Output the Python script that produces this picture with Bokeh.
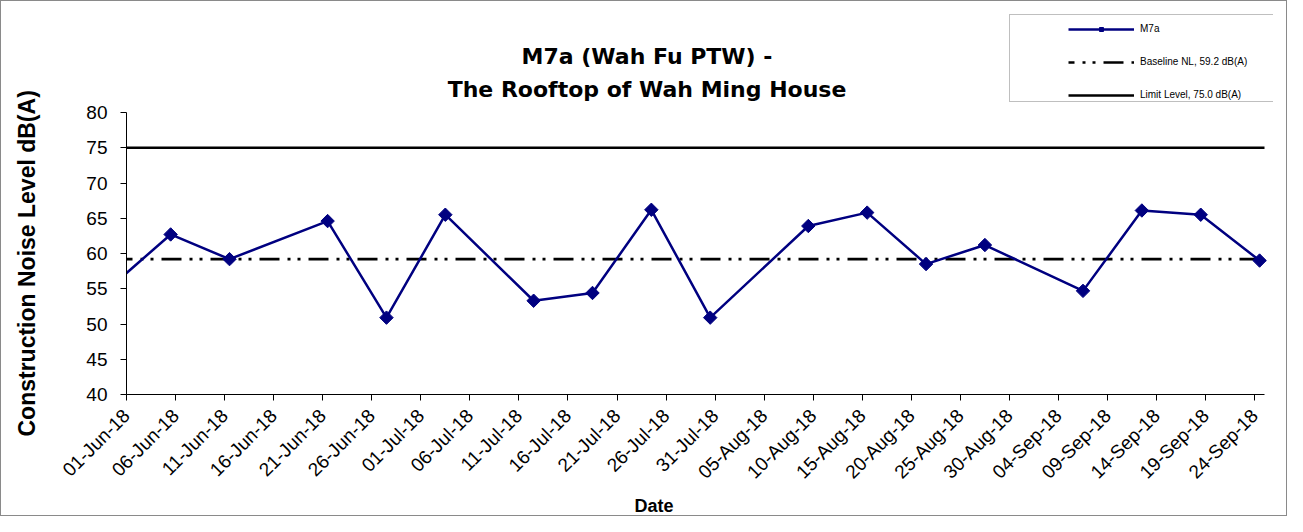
import math
import pandas as pd
from bokeh.plotting import figure
from bokeh.models import (Range1d, FixedTicker, DatetimeTickFormatter, Legend,
                          LegendItem, Title, Label, ColumnDataSource)
from bokeh.embed import file_html
from bokeh.resources import INLINE

# ---------------- data ----------------
title_line1 = "M7a (Wah Fu PTW) -"
title_line2 = "The Rooftop of Wah Ming House"
series_name = "M7a"
baseline_label = "Baseline NL, 59.2 dB(A)"
limit_label = "Limit Level, 75.0 dB(A)"
y_label = "Construction Noise Level dB(A)"
x_label = "Date"

dates = ["2018-05-30", "2018-06-05", "2018-06-11", "2018-06-21", "2018-06-27",
         "2018-07-03", "2018-07-12", "2018-07-18", "2018-07-24", "2018-07-30",
         "2018-08-09", "2018-08-15", "2018-08-21", "2018-08-27", "2018-09-06",
         "2018-09-12", "2018-09-18", "2018-09-24"]
noise = [55.4, 62.7, 59.2, 64.6, 50.9,
         65.5, 53.3, 54.4, 66.2, 50.9,
         63.9, 65.8, 58.5, 61.2, 54.7,
         66.1, 65.5, 59.0]

baseline_level = 59.2
limit_level = 75.0

x_start = "2018-06-01"
x_end = "2018-09-25"
tick_first = "2018-06-01"
tick_last = "2018-09-24"
tick_step = "5D"
y_ticks = [40, 45, 50, 55, 60, 65, 70, 75, 80]

# ---------------- layout constants (pixels) ----------------
FONT = "Liberation Sans"
NAVY = "#000080"
W, H = 1287, 516
AX_LEFT = 125.5          # x of the y axis line
AX_RIGHT = 1263.0        # x where the date axis ends
AX_TOP = 111.0           # y of value 80
AX_BOTTOM = 393.0        # y of value 40
FRAME_TOP = 10           # frame extends above the axis to host title and legend
FRAME_RIGHT = 1272       # frame extends a bit to the right so end markers are not cut

x0 = pd.Timestamp(x_start)
x1 = pd.Timestamp(x_end)
y0, y1 = y_ticks[0], y_ticks[-1]
px_per_ms = (AX_RIGHT - AX_LEFT) / ((x1 - x0).value / 1e6)
px_per_unit = (AX_BOTTOM - AX_TOP) / (y1 - y0)
x_range_end = x1 + pd.Timedelta(milliseconds=(FRAME_RIGHT - AX_RIGHT) / px_per_ms)
y_range_end = y1 + (AX_TOP - FRAME_TOP) / px_per_unit

p = figure(width=W, height=H, x_axis_type="datetime",
           x_range=Range1d(x0, x_range_end), y_range=Range1d(y0, y_range_end),
           output_backend="svg", toolbar_location=None, title_location=None,
           min_border_left=int(AX_LEFT), min_border_right=W - FRAME_RIGHT,
           min_border_top=FRAME_TOP, min_border_bottom=H - int(AX_BOTTOM))
p.outline_line_color = None
p.xgrid.visible = False
p.ygrid.visible = False
p.background_fill_color = "white"
p.border_fill_color = "white"
p.styles = {"border": "1px solid #8a8a8a"}

# series
xs = pd.to_datetime(dates) + pd.Timedelta(hours=12)
src = ColumnDataSource(dict(x=xs, y=noise))

ref_x = [x0, x1]
r_lim = p.line(x=ref_x, y=[limit_level, limit_level], line_color="black", line_width=2.6)
r_base = p.line(x=ref_x, y=[baseline_level, baseline_level], line_color="black",
                line_width=2.6, line_dash="20 8 3 7 3 8", line_dash_offset=14)
r_line = p.line("x", "y", source=src, line_color=NAVY, line_width=2.5)
r_pts = p.scatter("x", "y", source=src, marker="square", angle=math.pi / 4, size=9.5,
                  fill_color=NAVY, line_color=NAVY)
r_dummy = p.line(x=[], y=[], line_alpha=0)

# axes
ticks = [t.value / 1e6 for t in pd.date_range(tick_first, tick_last, freq=tick_step)]
p.xaxis.ticker = FixedTicker(ticks=ticks)
fmt = "%d-%b-%y"
fkw = dict(milliseconds=fmt, seconds=fmt, minsec=fmt, minutes=fmt, hourmin=fmt,
           hours=fmt, days=fmt, months=fmt, years=fmt)
if "strip_leading_zeros" in DatetimeTickFormatter.properties():
    fkw["strip_leading_zeros"] = False
p.xaxis.formatter = DatetimeTickFormatter(**fkw)
p.xaxis.major_label_orientation = math.pi / 4
p.xaxis.bounds = (x0, x1)
p.yaxis.ticker = FixedTicker(ticks=y_ticks)
p.yaxis.bounds = (y0, y1)

for ax in (p.xaxis[0], p.yaxis[0]):
    ax.axis_line_color = "black"
    ax.axis_line_width = 1
    ax.major_tick_line_color = "black"
    ax.major_tick_out = 6
    ax.major_tick_in = 0
    ax.minor_tick_line_color = None
    ax.major_label_text_font = FONT
    ax.major_label_text_color = "black"

p.xaxis.major_label_text_font_size = "19px"
p.xaxis.major_label_standoff = 12
p.yaxis.major_label_text_font_size = "19px"
p.yaxis.major_label_standoff = 13

# side titles (axis labels)
has_standoff = "standoff" in Title.properties()

def side_title(text, size, offset, standoff, style="bold"):
    kw = dict(text=text, align="left", offset=offset, text_font=FONT,
              text_font_size=size, text_font_style=style, text_color="black",
              vertical_align="bottom")
    if has_standoff:
        kw["standoff"] = standoff
    return Title(**kw)

# spacer between the y tick labels and the y axis title, then the title itself
p.add_layout(side_title(" ", "1px", 0, 41, "normal"), "left")
p.add_layout(side_title(y_label, "23px", -42, 0), "left")
p.add_layout(side_title(x_label, "18px", 508, 0), "below")

# chart title (two lines, inside the extended frame area)
for text, cy in ((title_line1, 55), (title_line2, 88)):
    p.add_layout(Label(x=646 - AX_LEFT, y=AX_BOTTOM - cy, x_units="screen",
                       y_units="screen", text=text, text_align="center",
                       text_baseline="middle", text_font="DejaVu Sans",
                       text_font_size="22px", text_font_style="bold",
                       text_color="black"))

# legend frame (box) and legend entries
leg_box = Legend(items=[LegendItem(label=" ", renderers=[r_dummy])],
                 location=(883, 292), padding=0, margin=0, spacing=0,
                 glyph_width=265, glyph_height=86, label_width=0, label_height=0,
                 label_standoff=0, label_text_font_size="1px",
                 border_line_color="#808080", border_line_width=1,
                 background_fill_color="white", background_fill_alpha=1)
leg = Legend(items=[LegendItem(label=series_name, renderers=[r_line, r_pts]),
                    LegendItem(label=baseline_label, renderers=[r_base]),
                    LegendItem(label=limit_label, renderers=[r_lim])],
             location=(942, 294), padding=0, margin=0, spacing=22,
             glyph_width=66, glyph_height=10, label_height=10, label_standoff=6,
             label_text_font=FONT, label_text_font_size="10px", label_text_color="black",
             border_line_alpha=0, background_fill_alpha=0)
p.add_layout(leg_box, "center")
p.add_layout(leg, "center")

open("out.html", "w").write(file_html(p, INLINE))
